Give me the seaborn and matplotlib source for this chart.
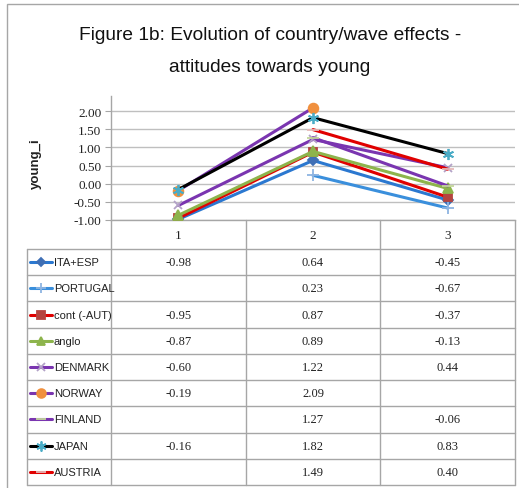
import numpy as np
import pandas as pd
import seaborn as sns
import matplotlib
matplotlib.use("Agg")
from matplotlib import pyplot as plt

waves = [1, 2, 3]
ita_esp = [-0.98, 0.64, -0.45]
portugal = [np.nan, 0.23, -0.67]
cont_aut = [-0.95, 0.87, -0.37]
anglo = [-0.87, 0.89, -0.13]
denmark = [-0.60, 1.22, 0.44]
norway = [-0.19, 2.09, np.nan]
finland = [np.nan, 1.27, -0.06]
japan = [-0.16, 1.82, 0.83]
austria = [np.nan, 1.49, 0.40]
series_names = ["ITA+ESP", "PORTUGAL", "cont (-AUT)", "anglo", "DENMARK",
                "NORWAY", "FINLAND", "JAPAN", "AUSTRIA"]
series_vals = [ita_esp, portugal, cont_aut, anglo, denmark, norway, finland, japan, austria]

# line colour, marker, marker colour, marker size
styles = [
    ("#2B78D0", "D", "#3F6FB5", 5),
    ("#3A8FDC", "+", "#8DB4E2", 8),
    ("#E00000", "s", "#B5443F", 6),
    ("#8DB44C", "^", "#8DB44C", 7),
    ("#7A35B0", "x", "#B3A2C7", 6),
    ("#7A35B0", "o", "#F0903E", 7),
    ("#7A35B0", "_", "#C3D69B", 8),
    ("#000000", (6, 2, 0), "#4BACC6", 8),
    ("#E00000", "_", "#E6B9B8", 8),
]

sans = "Liberation Sans"
serif = "Liberation Serif"

sns.set_style("white")
plt.rcParams["font.family"] = [sans, "DejaVu Sans"]

W, H = 519, 489
fig = plt.figure(figsize=(W / 100, H / 100), dpi=100)


def fy(y):
    return 1 - y / H


# outer chart frame
fig.patches.append(plt.Rectangle((7 / W, -0.01), (W - 6) / W, fy(5) + 0.01,
                                 transform=fig.transFigure, fill=False,
                                 ec="#A6A6A6", lw=1))

fig.text(270 / W, fy(36), "Figure 1b: Evolution of country/wave effects -",
         ha="center", va="center", fontsize=13.8, color="#111111")
fig.text(270 / W, fy(68), "attitudes towards young",
         ha="center", va="center", fontsize=13.8, color="#111111")

# plot area
ax = fig.add_axes([111 / W, fy(221), 404 / W, (221 - 97) / H])
for vals, (lc, mk, mc, ms) in zip(series_vals, styles):
    sns.lineplot(x=waves, y=vals, ax=ax, color=lc, lw=2.2, marker=mk,
                 markersize=ms, mfc=mc, mec=mc, mew=1.3, zorder=3)

ax.set_xlim(0.5, 3.5)
ax.set_ylim(-1, 2 + 15 / 36)
ax.set_yticks(np.arange(-1, 2.01, 0.5))
ax.set_yticklabels([f"{t:.2f}" for t in np.arange(-1, 2.01, 0.5)],
                   fontfamily=serif, fontsize=9.5, color="#222222")
ax.set_xticks([])
ax.yaxis.grid(True, color="#BFBFBF", lw=1)
ax.tick_params(axis="y", length=4, color="#A6A6A6", left=True, pad=3)
for s in ["top", "right"]:
    ax.spines[s].set_visible(False)
for s in ["left", "bottom"]:
    ax.spines[s].set_color("#A6A6A6")
    ax.spines[s].set_linewidth(1)
ax.set_xlabel("")
ax.set_ylabel("")
fig.text(36 / W, fy(164), "young_i", rotation=90, ha="center", va="center",
         fontsize=9.5, fontweight="bold", color="#222222")

# data table below the plot
tab = fig.add_axes([27 / W, fy(486), (515 - 27) / W, (486 - 221) / H])
unit = 404 / 3
xmin = 0.5 - (111 - 27) / unit
tab.set_xlim(xmin, 3.5)
tab.set_ylim(265, 0)
tab.axis("off")


def dx(px):
    return 0.5 + (px - 111) / unit


head = 29
row_h = (265 - head) / len(series_names)
grey = "#A6A6A6"
for i in range(len(series_names) + 1):
    tab.plot([xmin, 3.5], [head + i * row_h] * 2, color=grey, lw=1, clip_on=False)
tab.plot([xmin, xmin], [head, 265], color=grey, lw=1, clip_on=False)
for xb in [0.5, 1.5, 2.5, 3.5]:
    tab.plot([xb, xb], [0, 265], color=grey, lw=1, clip_on=False)

for w in waves:
    tab.text(w, 15, str(w), ha="center", va="center", fontsize=9.5,
             family=serif, color="#222222")

for i, (name, vals, (lc, mk, mc, ms)) in enumerate(zip(series_names, series_vals, styles)):
    yc = head + (i + 0.5) * row_h
    tab.plot([dx(30), dx(52)], [yc, yc], color=lc, lw=2.2, clip_on=False)
    tab.plot([dx(41)], [yc], marker=mk, ms=ms * 0.9, mfc=mc, mec=mc, mew=1.3,
             color=lc, clip_on=False)
    tab.text(dx(54), yc, name, ha="left", va="center", fontsize=8, color="#222222")
    for w, v in zip(waves, vals):
        if not np.isnan(v):
            tab.text(w, yc, f"{v:.2f}", ha="center", va="center", fontsize=9,
                     family=serif, color="#222222")

fig.savefig("out.png", dpi=100)
